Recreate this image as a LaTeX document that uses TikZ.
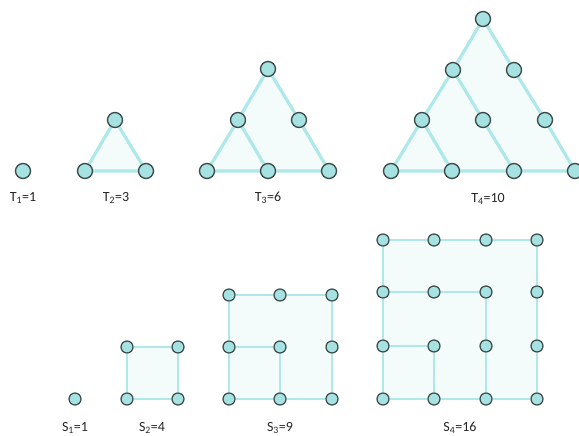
\documentclass[tikz,border=0pt]{standalone}
\usepackage{fontspec}
\setmainfont{Carlito}
\usetikzlibrary{backgrounds}
\definecolor{edgec}{HTML}{AEE8E8}
\definecolor{dotfill}{HTML}{A6E2E2}
\definecolor{dotline}{HTML}{3A4848}
\definecolor{pale}{HTML}{F4FBFB}
\tikzset{
  tdot/.style={circle, draw=dotline, fill=dotfill, line width=1.3pt, minimum size=15pt, inner sep=0pt},
  sdot/.style={circle, draw=dotline, fill=dotfill, line width=1.2pt, minimum size=12pt, inner sep=0pt},
  tline/.style={draw=edgec, line width=3.2pt},
  sline/.style={draw=edgec, line width=2.6pt},
  lbl/.style={font=\fontsize{14}{16}\selectfont, text=black!85, inner sep=0pt}
}
\begin{document}
\begin{tikzpicture}[x=1pt,y=-1pt]
\useasboundingbox (0,0) rectangle (579,436);
% ---------- triangles ----------
\node[tdot] (t1) at (23,171) {};
\node[tdot] (t2a) at (115,120) {};
\node[tdot] (t2b) at (85,171) {};
\node[tdot] (t2c) at (146,171) {};
\node[tdot] (t3a) at (268,69) {};
\node[tdot] (t3b) at (238,120) {};
\node[tdot] (t3c) at (299,120) {};
\node[tdot] (t3d) at (207,171) {};
\node[tdot] (t3e) at (268,171) {};
\node[tdot] (t3f) at (329,171) {};
\node[tdot] (t4a) at (483,19) {};
\node[tdot] (t4b) at (453,70) {};
\node[tdot] (t4c) at (514,70) {};
\node[tdot] (t4d) at (422,120) {};
\node[tdot] (t4e) at (483,120) {};
\node[tdot] (t4f) at (545,120) {};
\node[tdot] (t4g) at (391,171) {};
\node[tdot] (t4h) at (452,171) {};
\node[tdot] (t4i) at (514,171) {};
\node[tdot] (t4j) at (575,171) {};
\node[lbl] (lt1) at (23,198) {T\textsubscript{1}=1};
\node[lbl] (lt2) at (116,198) {T\textsubscript{2}=3};
\node[lbl] (lt3) at (268,198) {T\textsubscript{3}=6};
\node[lbl] (lt4) at (488,199) {T\textsubscript{4}=10};
% ---------- squares ----------
\node[sdot] (s1) at (75,399) {};
\node[sdot] (s2a) at (127,347) {};
\node[sdot] (s2b) at (178,347) {};
\node[sdot] (s2c) at (127,399) {};
\node[sdot] (s2d) at (178,399) {};
\foreach \i/\x in {1/229,2/280,3/332}
  \foreach \j/\y in {1/295,2/347,3/399}
    \node[sdot] (s3-\i-\j) at (\x,\y) {};
\foreach \i/\x in {1/383,2/434,3/486,4/537}
  \foreach \j/\y in {1/240,2/292,3/346,4/399}
    \node[sdot] (s4-\i-\j) at (\x,\y) {};
\node[lbl] (ls1) at (75,428) {S\textsubscript{1}=1};
\node[lbl] (ls2) at (152,428) {S\textsubscript{2}=4};
\node[lbl] (ls3) at (280,428) {S\textsubscript{3}=9};
\node[lbl] (ls4) at (460,428) {S\textsubscript{4}=16};
\begin{scope}[on background layer]
  % fills
  \fill[pale] (t2a.center) -- (t2b.center) -- (t2c.center) -- cycle;
  \fill[pale] (t3a.center) -- (t3d.center) -- (t3f.center) -- cycle;
  \fill[pale] (t4a.center) -- (t4g.center) -- (t4j.center) -- cycle;
  \fill[pale] (s2a.center) -- (s2b.center) -- (s2d.center) -- (s2c.center) -- cycle;
  \fill[pale] (s3-1-1.center) -- (s3-3-1.center) -- (s3-3-3.center) -- (s3-1-3.center) -- cycle;
  \fill[pale] (s4-1-1.center) -- (s4-4-1.center) -- (s4-4-4.center) -- (s4-1-4.center) -- cycle;
  % triangle edges
  \draw[tline] (t2a) -- (t2b) -- (t2c) -- (t2a);
  \draw[tline] (t3a) -- (t3b) -- (t3d) -- (t3e) -- (t3f) -- (t3c) -- (t3a);
  \draw[tline] (t3b) -- (t3e);
  \draw[tline] (t4a) -- (t4b) -- (t4d) -- (t4g) -- (t4h) -- (t4i) -- (t4j) -- (t4f) -- (t4c) -- (t4a);
  \draw[tline] (t4b) -- (t4e) -- (t4i);
  \draw[tline] (t4d) -- (t4h);
  % square edges
  \draw[sline] (s2a) -- (s2b) -- (s2d) -- (s2c) -- (s2a);
  \draw[sline] (s3-1-1) -- (s3-2-1) -- (s3-3-1) -- (s3-3-2) -- (s3-3-3) -- (s3-2-3) -- (s3-1-3) -- (s3-1-2) -- (s3-1-1);
  \draw[sline] (s3-1-2) -- (s3-2-2) -- (s3-2-3);
  \draw[sline] (s4-1-1) -- (s4-2-1) -- (s4-3-1) -- (s4-4-1) -- (s4-4-2) -- (s4-4-3) -- (s4-4-4) -- (s4-3-4) -- (s4-2-4) -- (s4-1-4) -- (s4-1-3) -- (s4-1-2) -- (s4-1-1);
  \draw[sline] (s4-1-2) -- (s4-2-2) -- (s4-3-2) -- (s4-3-3) -- (s4-3-4);
  \draw[sline] (s4-1-3) -- (s4-2-3) -- (s4-2-4);
\end{scope}
\end{tikzpicture}
\end{document}
